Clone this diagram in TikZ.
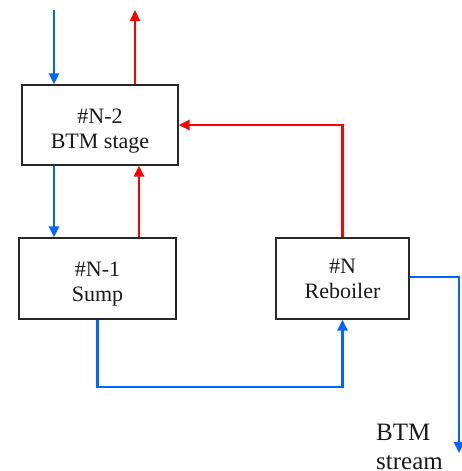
\documentclass[tikz,border=0pt]{standalone}
\usepackage{fontspec}
\setmainfont{Liberation Serif}
\usetikzlibrary{arrows.meta}
\definecolor{flowblue}{RGB}{0,102,255}
\definecolor{flowred}{RGB}{255,0,0}
\definecolor{boxline}{RGB}{40,40,40}
\newcommand{\lowerstrut}{\rule{0pt}{26pt}}
\begin{document}
\begin{tikzpicture}[x=1pt,y=-1pt,
  stagebox/.style={draw=boxline, line width=1.3pt, rectangle, inner sep=0pt,
    align=center, font=\fontsize{22}{25}\selectfont, text=black!90},
  bluearrow/.style={draw=flowblue, line width=2.2pt, -{Triangle[length=11pt,width=10pt]}},
  redarrow/.style={draw=flowred, line width=2.2pt, -{Triangle[length=11pt,width=10pt]}},
  lbl/.style={font=\fontsize{25}{30}\selectfont, align=left, inner sep=0pt, text=black!90}]
\useasboundingbox (0,0) rectangle (461,471);
\node[stagebox, minimum width=156pt, minimum height=80pt] (b1) at (100,125) {\lowerstrut\#N-2\\BTM stage};
\node[stagebox, minimum width=157pt, minimum height=81pt] (b2) at (97.5,278.5) {\lowerstrut\#N-1\\Sump};
\node[stagebox, minimum width=133pt, minimum height=81pt] (b3) at (342.5,278.5) {\#N\\Reboiler};
\node[lbl, anchor=base west] (t1) at (376,440) {BTM};
\node[lbl, anchor=base west] (t2) at (376,469) {stream};
\coordinate (in1) at (54,10);
\coordinate (out1) at (135,10);
\coordinate (up2) at (139,0);
\coordinate (low) at (0,387);
\coordinate (out2) at (459,453);
\draw[bluearrow] (in1) -- (in1 |- b1.north);
\draw[redarrow] (out1 |- b1.north) -- (out1);
\draw[bluearrow] (in1 |- b1.south) -- (in1 |- b2.north);
\draw[redarrow] (up2 |- b2.north) -- (up2 |- b1.south);
\draw[redarrow] (b3.north) -- (b3.north |- b1.east) -- (b1.east);
\draw[bluearrow] (b2.south) -- (b2.south |- low) -- (b3.south |- low) -- (b3.south);
\draw[bluearrow] ([yshift=1.5pt]b3.east) -| (out2);
\end{tikzpicture}
\end{document}
